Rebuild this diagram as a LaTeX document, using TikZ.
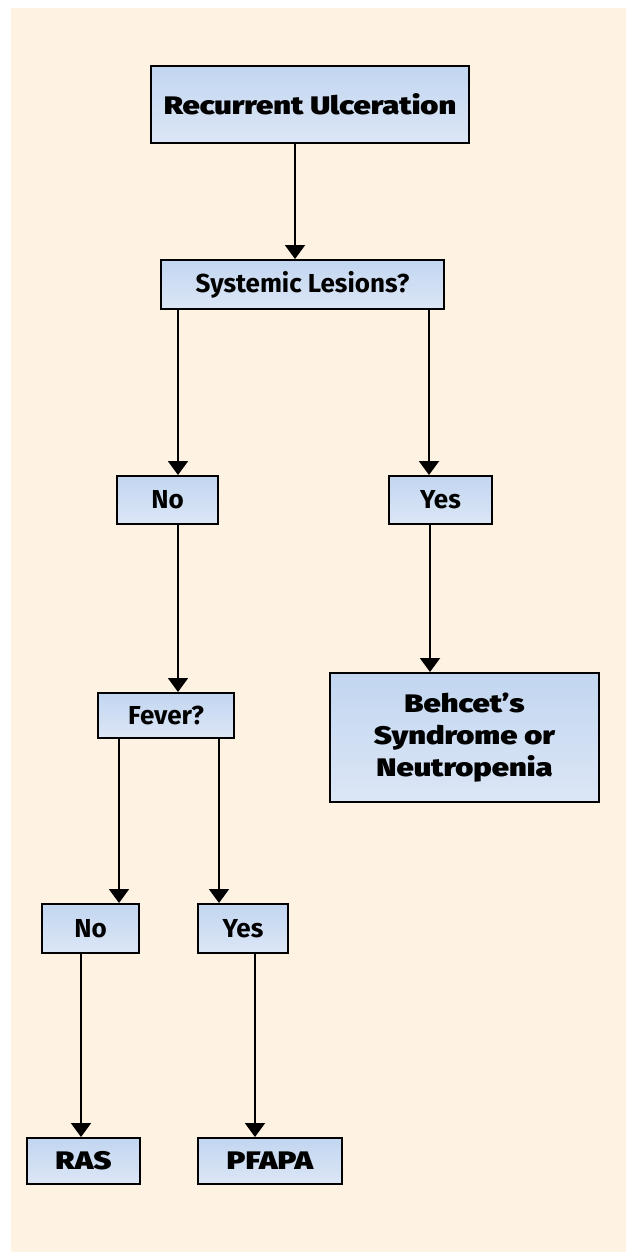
\documentclass[tikz,border=0pt]{standalone}
\usepackage{fontspec}
\setmainfont{Fira Sans}
\newfontfamily\heavyfont{Fira Sans Black}[FakeStretch=1.22]
\usepackage{xcolor}
\usepackage{tikz}
\usetikzlibrary{arrows.meta}
\definecolor{cream}{HTML}{FEF3E2}
\definecolor{boxtop}{HTML}{C2D6F0}
\definecolor{boxbot}{HTML}{DCE6F6}
\tikzset{
	box/.style={draw=black,line width=1.5pt,top color=boxtop,bottom color=boxbot,
		inner sep=0pt,align=center,font=\fontsize{19.5}{24}\selectfont\bfseries},
	heavy/.style={box,font=\fontsize{19}{24}\selectfont\heavyfont},
	arr/.style={line width=1.5pt,-{Triangle[width=15pt,length=10.5pt]}}
}
\begin{document}
\begin{tikzpicture}[x=0.75pt,y=-0.75pt]
		\useasboundingbox (0,0) rectangle (626,1252);
		\fill[cream] (11,8) rectangle (626,1252);
		% boxes
		\node[heavy,minimum width=238.5pt,minimum height=57.75pt] (ulcer) at (310,104.5) {Recurrent Ulceration};
		\node[box,minimum width=212.25pt,minimum height=36.75pt] (sysles) at (302.5,284.5) {Systemic Lesions?};
		\node[box,minimum width=75.75pt,minimum height=36pt] (no1) at (167.5,500) {No};
		\node[box,minimum width=77.25pt,minimum height=36pt] (yes1) at (440.5,500) {Yes};
		\node[box,minimum width=102pt,minimum height=33.75pt] (fever) at (166,715.5) {Fever?};
		\node[heavy,minimum width=201.75pt,minimum height=96.75pt] (behcet) at (464.5,737.5) {Behcet’s\\Syndrome or\\Neutropenia};
		\node[box,minimum width=72.75pt,minimum height=36.75pt] (no2) at (90.5,928.5) {No};
		\node[box,minimum width=67.5pt,minimum height=36.75pt] (yes2) at (243,928.5) {Yes};
		\node[heavy,minimum width=84.75pt,minimum height=34.5pt] (ras) at (83.5,1161) {RAS};
		\node[heavy,minimum width=108pt,minimum height=34.5pt] (pfapa) at (270,1161) {PFAPA};
		% arrows
		\draw[arr] (ulcer.south -| 295,0) -- (sysles.north -| 295,0);
		\draw[arr] (sysles.south -| 178,0) -- (no1.north -| 178,0);
		\draw[arr] (sysles.south -| 429,0) -- (yes1.north -| 429,0);
		\draw[arr] (no1.south -| 178,0) -- (fever.north -| 178,0);
		\draw[arr] (yes1.south -| 430,0) -- (behcet.north -| 430,0);
		\draw[arr] (fever.south -| 119,0) -- (no2.north -| 119,0);
		\draw[arr] (fever.south -| 219,0) -- (yes2.north -| 219,0);
		\draw[arr] (no2.south -| 81,0) -- (ras.north -| 81,0);
		\draw[arr] (yes2.south -| 255,0) -- (pfapa.north -| 255,0);
	\end{tikzpicture}
\end{document}
